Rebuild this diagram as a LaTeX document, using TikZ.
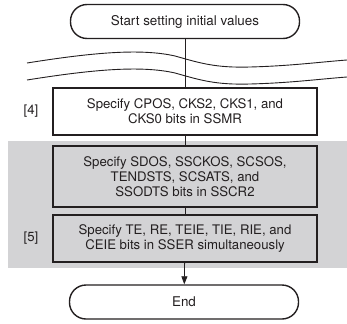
\documentclass[tikz,border=0pt]{standalone}
\usepackage{fontspec}
\setmainfont{TeX Gyre Heros}
\usetikzlibrary{
	arrows.meta,
	positioning,
	backgrounds
}
\definecolor{PanelGray}{RGB}{211,211,213}
\definecolor{InkBlack}{RGB}{35,31,32}
\tikzset{
	terminal/.style={draw=InkBlack, line width=1.4pt, rounded corners=16.5pt, minimum width=229pt, minimum height=34pt, inner sep=0pt, font=\fontsize{13.4}{15}\selectfont, text=InkBlack},
	procbox/.style={draw=InkBlack, line width=2pt, minimum width=264pt, inner sep=0pt, align=center, font=\fontsize{13.2}{15}\selectfont, text=InkBlack},
	steplabel/.style={font=\fontsize{13.2}{15}\selectfont, text=InkBlack},
	link/.style={draw=InkBlack, line width=0.8pt}
}

\begin{document}
\begin{tikzpicture}[x=1pt, y=-1pt]
		\useasboundingbox (0,0) rectangle (347,323);
		\fill[PanelGray] (8,141) rectangle (347,268);
		\node[terminal] (start) at (185,21.5) {Start setting initial values};
		\node[procbox, fill=white, minimum height=47pt] (ssmr) at (185,111.5) {Specify CPOS, CKS2, CKS1, and\\CKS0 bits in SSMR};
		\node[procbox, fill=PanelGray, minimum height=61pt] (sscr) at (185,176.5) {Specify SDOS, SSCKOS, SCSOS,\\TENDSTS, SCSATS, and\\SSODTS bits in SSCR2};
		\node[procbox, fill=PanelGray, minimum height=47pt] (sser) at (185,238.5) {Specify TE, RE, TEIE, TIE, RIE, and\\CEIE bits in SSER simultaneously};
		\node[terminal] (end) at (184,302) {End};
		\node[steplabel] (s4) at (31,111) {[4]};
		\node[steplabel] (s5) at (31,238) {[5]};
		\draw[link] (start) -- (ssmr);
		\draw[link] (ssmr) -- (sscr);
		\draw[link] (sscr) -- (sser);
		\draw[link, -{Triangle[length=8pt, width=6pt]}] (sser) -- (end);
		\draw[InkBlack, line width=0.9pt] (27,63) .. controls (90,53) and (140,48) .. (175,56) .. controls (200,63) and (215,68) .. (250,67) .. controls (290,66) and (320,62) .. (347,60);
		\draw[InkBlack, line width=0.9pt] (27,80) .. controls (90,70) and (140,65) .. (175,73) .. controls (200,80) and (215,85) .. (250,84) .. controls (290,83) and (320,79) .. (347,77);
	\end{tikzpicture}
\end{document}
